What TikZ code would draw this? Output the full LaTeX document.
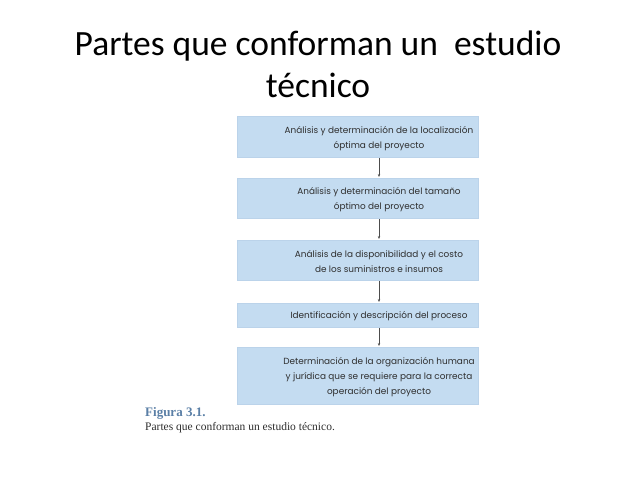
\documentclass[tikz,border=0pt]{standalone}
\usepackage{fontspec}
\setmainfont{Carlito}
\newfontfamily\boxfont{Poppins}
\newfontfamily\capfont{Liberation Serif}
\usetikzlibrary{arrows.meta}
\definecolor{boxblue}{HTML}{C4DCF1}
\definecolor{boxedge}{HTML}{BBD3EA}
\definecolor{txtgray}{HTML}{2E2E2E}
\definecolor{capblue}{HTML}{5A7FA6}
\tikzset{
  stepbox/.style={fill=boxblue, draw=boxedge, line width=0.6pt, inner sep=0pt},
  boxtext/.style={font=\boxfont\fontsize{8.9}{15}\selectfont, text=txtgray, align=center},
  flow/.style={draw=black!70, line width=0.6pt, -{Stealth[length=3pt,width=2.4pt]}},
}
\begin{document}
\begin{tikzpicture}[x=1pt,y=-1pt]
\useasboundingbox (0,0) rectangle (638,479);
\fill[white] (0,0) rectangle (638,479);
% title
\node[font=\fontsize{35.5}{42}\selectfont, align=center, text=black] (title) at (318,64)
  {Partes que conforman un\ \ estudio\\técnico};
% boxes
\path[stepbox] (237,116) rectangle (478,157);
\path[stepbox] (237,178) rectangle (478,218);
\path[stepbox] (237,240) rectangle (478,280);
\path[stepbox] (237,303) rectangle (478,327);
\path[stepbox] (237,347) rectangle (478,404);
\node[boxtext] (b1) at (379,139) {Análisis y determinación de la localización\\óptima del proyecto};
\node[boxtext] (b2) at (379,200) {Análisis y determinación del tamaño\\óptimo del proyecto};
\node[boxtext] (b3) at (379,262) {Análisis de la disponibilidad y el costo\\de los suministros e insumos};
\node[boxtext] (b4) at (379,316) {Identificación y descripción del proceso};
\node[boxtext] (b5) at (379,377) {Determinación de la organización humana\\y jurídica que se requiere para la correcta\\operación del proyecto};
\coordinate (a1s) at (379,158); \coordinate (a1e) at (379,177);
\coordinate (a2s) at (379,219); \coordinate (a2e) at (379,239);
\coordinate (a3s) at (379,281); \coordinate (a3e) at (379,302);
\coordinate (a4s) at (379,328); \coordinate (a4e) at (379,346);
\draw[flow] (a1s) -- (a1e);
\draw[flow] (a2s) -- (a2e);
\draw[flow] (a3s) -- (a3e);
\draw[flow] (a4s) -- (a4e);
% caption
\node[anchor=base west, font=\capfont\bfseries\fontsize{13}{14}\selectfont, text=capblue, inner sep=0pt] (cap1) at (145,416) {Figura 3.1.};
\node[anchor=base west, font=\capfont\fontsize{11.5}{13}\selectfont, text=txtgray, inner sep=0pt] (cap2) at (145,430) {Partes que conforman un estudio técnico.};
\end{tikzpicture}
\end{document}
